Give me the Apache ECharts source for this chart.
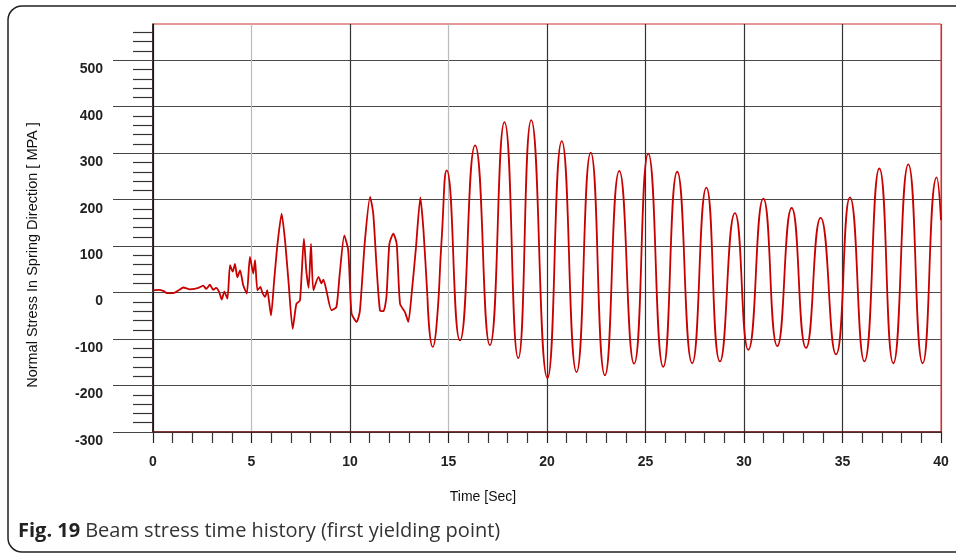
<!DOCTYPE html>
<html>
<head>
<meta charset="utf-8">
<script src="https://cdn.jsdelivr.net/npm/echarts@6/dist/echarts.min.js"></script>
<style>html,body{margin:0;padding:0;background:#fff;}#chart{width:956px;height:553px;}</style>
</head>
<body>
<div id="chart"></div>
<script>
// Time [Sec]
const timeSec = [
  0.00, 0.30, 0.55, 0.70, 1.03, 1.30, 1.54, 1.88, 2.10, 2.30, 2.55, 2.70, 2.89, 3.05, 3.20, 3.35, 3.49, 3.62, 3.78,
  3.91, 4.05, 4.16, 4.28, 4.42, 4.58, 4.76, 4.92, 5.09, 5.18, 5.30, 5.45, 5.55, 5.69, 5.80, 5.99,
  6.15, 6.32, 6.53, 6.70, 6.88, 7.09, 7.28, 7.46, 7.66, 7.78, 7.90, 8.02, 8.14, 8.40, 8.55, 8.65, 8.80,
  9.06, 9.31, 9.48, 9.71, 9.91, 10.08, 10.34, 10.50, 10.76, 11.02, 11.18, 11.35, 11.52, 11.70, 11.85,
  12.00, 12.20, 12.37, 12.54, 12.79, 12.96, 13.13, 13.35, 13.57, 13.73, 13.93, 14.20, 14.40, 14.65, 14.91,
  15.58, 16.35, 17.10, 17.84, 18.54, 19.20, 20.02, 20.75, 21.50, 22.22, 22.94, 23.67, 24.42, 25.14,
  25.90, 26.61, 27.37, 28.09, 28.78, 29.54, 30.22, 30.98, 31.69, 32.42, 33.15, 33.89, 34.67, 35.38,
  36.11, 36.87, 37.58, 38.34, 39.07, 39.78, 40.00
];
// Normal Stress In Spring Direction [MPA]
const stressMPA = [
  5, 6, 3, -1, -1, 5, 11, 7, 8, 10, 15, 8, 17, 6, 10, 2, -15, 2, -13,
  59, 45, 62, 33, 48, 16, -2, 77, 41, 70, 5, 12, 0, -9, 5, -49,
  26, 105, 170, 113, 23, -78, -24, -17, 116, 48, 10, 105, 5, 34, 20, 28, 5,
  -38, -31, 41, 123, 91, -45, -63, -40, 113, 206, 170, 55, -38, -40, -9,
  105, 127, 105, -24, -42, -63, -2, 98, 205, 134, -9, -117, -67, 113, 263,
  -103, 317, -113, 367, -141, 371, -184, 326, -171, 301, -178, 262, -153, 299,
  -160, 260, -152, 226, -148, 171, -123, 202, -115, 182, -119, 161, -133, 205,
  -148, 267, -152, 276, -152, 248, 156
];
const yMajorTicks = [-300, -200, -100, 0, 100, 200, 300, 400, 500];
const yMinorTicks = [-280, -260, -240, -220, -180, -160, -140, -120, -80, -60, -40, -20,
  20, 40, 60, 80, 120, 140, 160, 180, 220, 240, 260, 280, 320, 340, 360, 380, 420, 440, 460, 480, 520, 540, 560];
const xTickLabels = [0, 5, 10, 15, 20, 25, 30, 35, 40];

const points = timeSec.map((t, i) => [t, stressMPA[i]]);
const noisyPart = points.filter(p => p[0] <= 13.93);
const wavePart = points.filter(p => p[0] >= 13.93);

const chart = echarts.init(document.getElementById('chart'), null, {renderer: 'canvas'});
const labelFont = {fontFamily: 'Liberation Sans, Arial, sans-serif', fontWeight: 'bold', fontSize: 14, color: '#222'};
const lineStyle = {color: '#c80000', width: 1.8};
chart.setOption({
  animation: false,
  backgroundColor: '#fff',
  grid: {left: 153, right: 15, top: 24, bottom: 121, show: true, borderColor: '#cc3333', borderWidth: 1, backgroundColor: 'transparent'},
  xAxis: {
    type: 'value', min: 0, max: 40, interval: 5,
    axisLine: {show: true, onZero: false, lineStyle: {color: '#5a1a1a', width: 1.5}},
    axisTick: {show: true, length: 11, lineStyle: {color: '#222', width: 1.2}},
    minorTick: {show: true, splitNumber: 5, length: 11, lineStyle: {color: '#333', width: 1.2}},
    axisLabel: Object.assign({margin: 23, customValues: xTickLabels}, labelFont),
    splitLine: {show: true, lineStyle: {color: ['#333', '#bbb', '#333', '#bbb', '#333', '#333', '#333', '#333', '#cc3333'], width: 1.2}}
  },
  yAxis: [
    {
      type: 'value', min: -300, max: 578, interval: 100, position: 'left',
      axisLine: {show: true, onZero: false, lineStyle: {color: '#111', width: 1.5}},
      axisTick: {show: true, length: 40, customValues: yMajorTicks, lineStyle: {color: '#444', width: 1.2}},
      axisLabel: Object.assign({customValues: yMajorTicks, margin: 50, verticalAlign: 'top', padding: [2, 0, 0, 0]}, labelFont),
      splitLine: {show: true, lineStyle: {color: '#4a4a4a', width: 1.2}}
    },
    {
      type: 'value', min: -300, max: 578, position: 'left',
      axisLine: {show: false, onZero: false},
      axisTick: {show: true, length: 20, customValues: yMinorTicks, lineStyle: {color: '#333', width: 1.2}},
      axisLabel: {show: false},
      splitLine: {show: false}
    }
  ],
  series: [
    {type: 'line', xAxisIndex: 0, yAxisIndex: 0, data: noisyPart, showSymbol: false, smooth: 0.2, lineStyle: lineStyle, z: 5},
    {type: 'line', xAxisIndex: 0, yAxisIndex: 0, data: wavePart, showSymbol: false, smooth: 0.55, lineStyle: lineStyle, z: 5}
  ],
  title: {
    left: 13, top: 516,
    text: '{b|Fig. 19} {n|Beam stress time history (first yielding point)}',
    textStyle: {
      rich: {
        b: {fontFamily: 'Open Sans, sans-serif', fontWeight: 'bold', fontSize: 20, color: '#222'},
        n: {fontFamily: 'Open Sans, sans-serif', fontWeight: 'normal', fontSize: 20, color: '#333'}
      }
    }
  },
  graphic: [
    {type: 'rect', z: 100, silent: true, shape: {x: 8, y: 6, width: 1000, height: 546, r: 14},
     style: {fill: 'none', stroke: '#222', lineWidth: 1.5}},
    {type: 'text', z: 100, x: 33, y: 255, rotation: Math.PI / 2,
     style: {text: 'Normal Stress In Spring Direction [ MPA ]', fontFamily: 'Liberation Sans, Arial, sans-serif', fontSize: 14.5, fill: '#111', align: 'center', verticalAlign: 'middle'}},
    {type: 'text', z: 100, x: 483, y: 497,
     style: {text: 'Time [Sec]', fontFamily: 'Liberation Sans, Arial, sans-serif', fontSize: 14, fill: '#111', align: 'center', verticalAlign: 'middle'}}
  ]
});
</script>
</body>
</html>
